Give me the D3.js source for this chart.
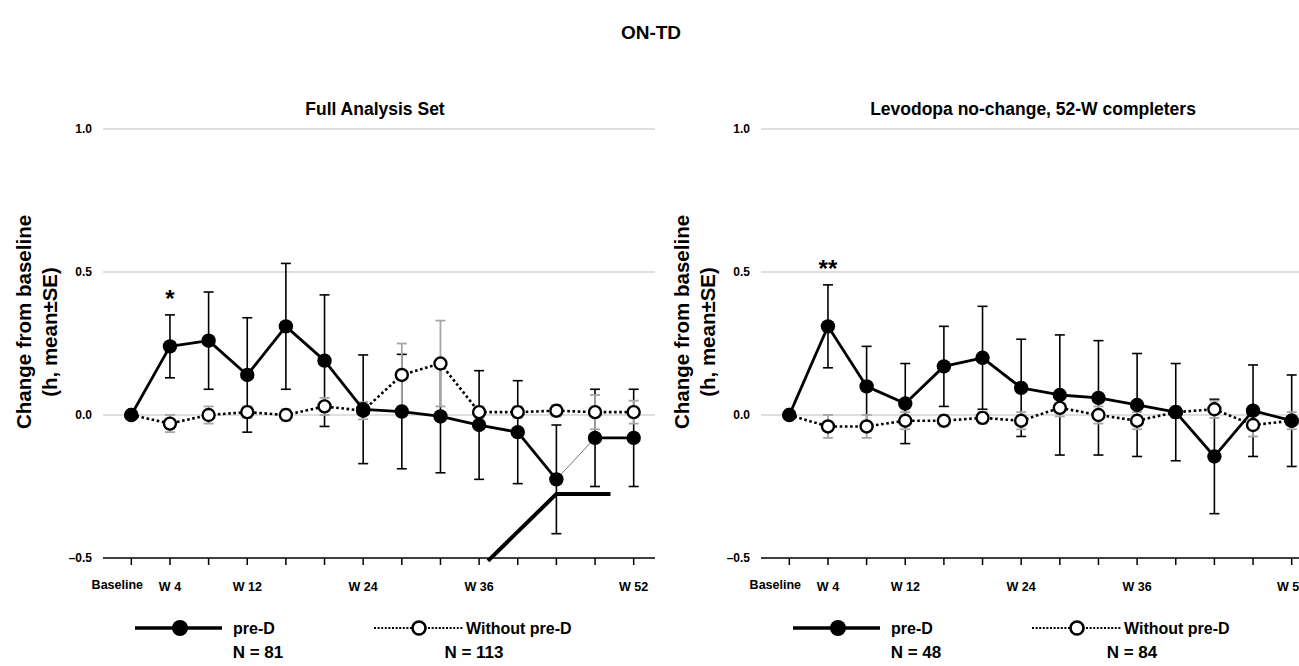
<!DOCTYPE html>
<html>
<head>
<meta charset="utf-8">
<script src="https://cdnjs.cloudflare.com/ajax/libs/d3/7.8.5/d3.min.js"></script>
<style>
  body { margin: 0; background: #fff; }
  text { font-family: "Liberation Sans", Arial, sans-serif; font-weight: bold; fill: #000; }
</style>
</head>
<body>
<div id="chart"></div>
<script>
const weeks = ["Baseline", "W 4", "W 8", "W 12", "W 16", "W 20", "W 24", "W 28", "W 32", "W 36", "W 40", "W 44", "W 48", "W 52"];
const shownWeeks = ["Baseline", "W 4", "W 12", "W 24", "W 36", "W 52"];
const yTicks = [-0.5, 0.0, 0.5, 1.0];

// Full Analysis Set
const fasPreMean = [0, 0.24, 0.26, 0.14, 0.31, 0.19, 0.02, 0.012, -0.005, -0.035, -0.06, -0.225, -0.08, -0.08];
const fasPreSE   = [0, 0.11, 0.17, 0.20, 0.22, 0.23, 0.19, 0.20, 0.197, 0.19, 0.18, 0.19, 0.17, 0.17];
const fasNoMean  = [0, -0.03, 0.0, 0.01, 0.0, 0.03, 0.015, 0.14, 0.18, 0.01, 0.01, 0.015, 0.01, 0.01];
const fasNoSE    = [0, 0.03, 0.03, 0.02, 0.02, 0.03, 0.03, 0.11, 0.15, 0.02, 0.02, 0.02, 0.06, 0.04];
// stray bold stroke in the left panel (week index, value)
const fasStray = [[9.23, -0.51], [11, -0.276], [12.4, -0.276]];

// Levodopa no-change, 52-W completers
const ldPreMean = [0, 0.31, 0.10, 0.04, 0.17, 0.20, 0.095, 0.07, 0.06, 0.035, 0.01, -0.145, 0.015, -0.02];
const ldPreSE   = [0, 0.145, 0.14, 0.14, 0.14, 0.18, 0.17, 0.21, 0.20, 0.18, 0.17, 0.20, 0.16, 0.16];
const ldNoMean  = [0, -0.04, -0.04, -0.02, -0.02, -0.01, -0.02, 0.025, 0.0, -0.02, 0.01, 0.02, -0.035, -0.02];
const ldNoSE    = [0, 0.04, 0.04, 0.03, 0.02, 0.02, 0.03, 0.03, 0.03, 0.03, 0.02, 0.03, 0.04, 0.03];

document.addEventListener('DOMContentLoaded', function() {
  const svg = d3.select("#chart")
    .append("svg")
      .attr("width", 1299)
      .attr("height", 666);

  svg.append("text")
    .attr("x", 651)
    .attr("y", 39)
    .attr("text-anchor", "middle")
    .style("font-size", "19px")
    .text("ON-TD");

  const panels = [
    { offset: 0, title: "Full Analysis Set", pre: fasPreMean, preSE: fasPreSE, no: fasNoMean, noSE: fasNoSE,
      star: "*", nPre: "N = 81", nNo: "N = 113", thin: ["W 44"], stray: fasStray },
    { offset: 658, title: "Levodopa no-change, 52-W completers", pre: ldPreMean, preSE: ldPreSE, no: ldNoMean, noSE: ldNoSE,
      star: "**", nPre: "N = 48", nNo: "N = 84", thin: [], stray: null }
  ];

  panels.forEach(p => drawPanel(p));

  function drawPanel(p) {
    const g = svg.append("g").attr("transform", `translate(${p.offset},0)`);

    const x = d3.scaleBand().domain(weeks).range([112, 653]);
    const cx = w => x(w) + x.bandwidth() / 2;
    const xi = d3.scaleLinear().domain([0, weeks.length - 1]).range([cx(weeks[0]), cx(weeks[weeks.length - 1])]);
    const y = d3.scaleLinear().domain([-0.5, 1.0]).range([558, 129]);

    // title
    g.append("text")
      .attr("x", 375)
      .attr("y", 115)
      .attr("text-anchor", "middle")
      .style("font-size", "17.5px")
      .text(p.title);

    // y label
    const yl = g.append("g").attr("transform", `translate(0, 322) rotate(-90)`);
    yl.append("text").attr("x", 0).attr("y", 31).attr("text-anchor", "middle")
      .style("font-size", "20.5px").text("Change from baseline");
    yl.append("text").attr("x", -10).attr("y", 57).attr("text-anchor", "middle")
      .style("font-size", "20.5px").text("(h, mean\u00b1SE)");

    // gridlines
    g.selectAll(".grid")
      .data(yTicks.filter(t => t > -0.5))
      .join("line")
        .attr("x1", 103).attr("x2", 655)
        .attr("y1", d => y(d)).attr("y2", d => y(d))
        .attr("stroke", "#bdbdbd")
        .attr("stroke-width", 1.2);

    // y tick labels
    g.selectAll(".ylab")
      .data(yTicks)
      .join("text")
        .attr("x", 92)
        .attr("y", d => y(d))
        .attr("dy", "0.35em")
        .attr("text-anchor", "end")
        .style("font-size", "12px")
        .text(d => d < 0 ? "\u2013" + d3.format(".1f")(-d) : d3.format(".1f")(d));

    // x axis
    const xAxis = g.append("g")
      .attr("transform", `translate(0, ${y(-0.5)})`)
      .call(d3.axisBottom(x).tickSize(7).tickPadding(15)
        .tickFormat(d => shownWeeks.includes(d) ? d : ""));
    xAxis.select(".domain").remove();
    xAxis.selectAll("line").attr("stroke", "#000").attr("stroke-width", 1.5);
    xAxis.selectAll("text")
      .style("font-size", "12.5px")
      .style("font-family", "'Liberation Sans', Arial, sans-serif")
      .style("font-weight", "bold")
      .attr("fill", "#000")
      .attr("dx", d => d === "Baseline" ? -14 : 0)
      .attr("dy", d => d === "Baseline" ? "0.71em" : "0.9em");
    g.append("line")
      .attr("x1", 103).attr("x2", 655)
      .attr("y1", y(-0.5)).attr("y2", y(-0.5))
      .attr("stroke", "#000").attr("stroke-width", 1.5);

    // error bars: pre-D (black) then without pre-D (gray) on top
    const errBars = (means, ses, color, width) => {
      const eg = g.append("g").attr("stroke", color).attr("stroke-width", width);
      weeks.forEach((w, i) => {
        if (!ses[i]) return;
        const x0 = cx(w), top = y(means[i] + ses[i]), bot = y(means[i] - ses[i]);
        eg.append("line").attr("x1", x0).attr("x2", x0).attr("y1", top).attr("y2", bot);
        eg.append("line").attr("x1", x0 - 5).attr("x2", x0 + 5).attr("y1", top).attr("y2", top);
        eg.append("line").attr("x1", x0 - 5).attr("x2", x0 + 5).attr("y1", bot).attr("y2", bot);
      });
    };
    errBars(p.pre, p.preSE, "#000", 1.6);
    errBars(p.no, p.noSE, "#a6a6a6", 1.8);

    // without pre-D dotted line
    const line = d3.line().x((d, i) => cx(weeks[i])).y(d => y(d));
    g.append("path")
      .attr("d", line(p.no))
      .attr("fill", "none")
      .attr("stroke", "#000")
      .attr("stroke-width", 2.6)
      .attr("stroke-dasharray", "2.6,2.6");

    // pre-D solid segments
    for (let i = 0; i < weeks.length - 1; i++) {
      g.append("line")
        .attr("x1", cx(weeks[i])).attr("y1", y(p.pre[i]))
        .attr("x2", cx(weeks[i + 1])).attr("y2", y(p.pre[i + 1]))
        .attr("stroke", p.thin.includes(weeks[i]) ? "#555" : "#000")
        .attr("stroke-width", p.thin.includes(weeks[i]) ? 0.8 : 2.8);
    }

    // markers
    g.selectAll(".open")
      .data(p.no)
      .join("circle")
        .attr("cx", (d, i) => cx(weeks[i]))
        .attr("cy", d => y(d))
        .attr("r", 6)
        .attr("fill", "#fff")
        .attr("stroke", "#000")
        .attr("stroke-width", 2.4);
    g.selectAll(".filled")
      .data(p.pre)
      .join("circle")
        .attr("cx", (d, i) => cx(weeks[i]))
        .attr("cy", d => y(d))
        .attr("r", 7.2)
        .attr("fill", "#000");

    // significance mark
    g.append("text")
      .attr("x", cx("W 4"))
      .attr("y", y(p.pre[1] + p.preSE[1]) - 8)
      .attr("text-anchor", "middle")
      .style("font-size", "24px")
      .text(p.star);

    // stray stroke
    if (p.stray) {
      g.append("path")
        .attr("d", d3.line().x(d => xi(d[0])).y(d => y(d[1]))(p.stray))
        .attr("fill", "none")
        .attr("stroke", "#000")
        .attr("stroke-width", 4);
    }

    // legend
    const lg = g.append("g").attr("transform", "translate(0, 628)");
    lg.append("line").attr("x1", 135).attr("x2", 222).attr("y1", 0).attr("y2", 0)
      .attr("stroke", "#000").attr("stroke-width", 3.5);
    lg.append("circle").attr("cx", 180).attr("cy", 0).attr("r", 8).attr("fill", "#000");
    lg.append("text").attr("x", 233).attr("y", 0).attr("dy", "0.35em")
      .style("font-size", "16px").text("pre-D");
    lg.append("text").attr("x", 258).attr("y", 24).attr("dy", "0.35em").attr("text-anchor", "middle")
      .style("font-size", "17px").text(p.nPre);

    lg.append("line").attr("x1", 374).attr("x2", 464).attr("y1", 0).attr("y2", 0)
      .attr("stroke", "#000").attr("stroke-width", 2).attr("stroke-dasharray", "2,1.6");
    lg.append("circle").attr("cx", 419).attr("cy", 0).attr("r", 6.5)
      .attr("fill", "#fff").attr("stroke", "#000").attr("stroke-width", 2.6);
    lg.append("text").attr("x", 466).attr("y", 0).attr("dy", "0.35em")
      .style("font-size", "16px").text("Without pre-D");
    lg.append("text").attr("x", 474).attr("y", 24).attr("dy", "0.35em").attr("text-anchor", "middle")
      .style("font-size", "17px").text(p.nNo);
  }
});
</script>
</body>
</html>
